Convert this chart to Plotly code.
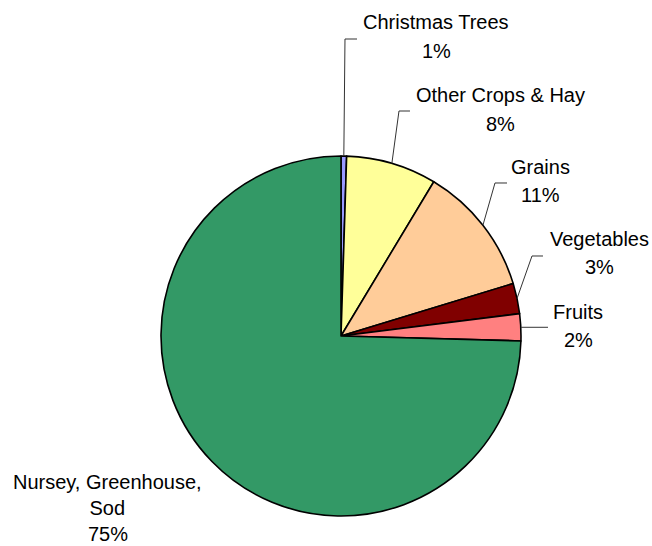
import math
import plotly.graph_objects as go

# ---- data ----
categories = ["Christmas Trees", "Other Crops & Hay", "Grains", "Vegetables", "Fruits",
              "Nursey, Greenhouse,<br>Sod"]
values = [0.5, 8.12, 11.67, 2.73, 2.42, 74.56]
pct_labels = ["1%", "8%", "11%", "3%", "2%", "75%"]
colors = ["#9999FF", "#FFFF99", "#FFCC99", "#800000", "#FF8080", "#339966"]

# ---- layout (pixel units) ----
W, H = 652, 546
CX, CY, R = 341, 336, 180
FONT = dict(family="Liberation Sans, Arial, sans-serif", size=20, color="#000000")
# label block: (center x, name y, percent y)
label_pos = [(436, 22, 51), (500, 95, 124), (540, 167, 195), (599, 239, 267),
             (578, 312, 340), (108, 482, 534)]
# leader elbows (x, y) and end x; None => no leader
leaders = [((345, 39), 357), ((399, 111), 410), ((495, 183), 507), ((532, 256), 543),
           (None, 548), None]


def px(x):
    return x / W


def py(y):
    return 1 - y / H


fig = go.Figure(go.Pie(
    labels=[c.replace("<br>", " ") for c in categories],
    values=values,
    sort=False,
    direction="clockwise",
    rotation=0,
    marker=dict(colors=colors, line=dict(color="#000000", width=1.6)),
    textinfo="none",
    hoverinfo="label+percent",
    domain=dict(x=[px(CX - R), px(CX + R)], y=[py(CY + R), py(CY - R)]),
    showlegend=False,
))

annotations = []
shapes = []
total = sum(values)
cum = 0.0
for i, (cat, v, pct) in enumerate(zip(categories, values, pct_labels)):
    mid = (cum + v / 2) / total * 2 * math.pi
    cum += v
    lx, ny, pyy = label_pos[i]
    annotations.append(dict(x=px(lx), y=py(ny), xref="paper", yref="paper", text=cat,
                            showarrow=False, xanchor="center",
                            yanchor="middle" if "<br>" not in cat else "top",
                            yshift=0 if "<br>" not in cat else 13,
                            font=FONT))
    annotations.append(dict(x=px(lx), y=py(pyy), xref="paper", yref="paper", text=pct,
                            showarrow=False, xanchor="center", yanchor="middle", font=FONT))
    ld = leaders[i]
    if ld is None:
        continue
    sx = CX + R * math.sin(mid)
    sy = CY - R * math.cos(mid)
    elbow, ex = ld
    if elbow is None:
        pts = [(sx, sy), (ex, sy)]
    else:
        pts = [(sx, sy), elbow, (ex, elbow[1])]
    path = "M " + " L ".join(f"{px(x):.5f},{py(y):.5f}" for x, y in pts)
    shapes.append(dict(type="path", path=path, xref="paper", yref="paper",
                       line=dict(color="#333333", width=1)))

fig.update_layout(
    width=W, height=H,
    margin=dict(l=0, r=0, t=0, b=0),
    paper_bgcolor="white", plot_bgcolor="white",
    annotations=annotations, shapes=shapes,
)
fig.write_html("out.html")
